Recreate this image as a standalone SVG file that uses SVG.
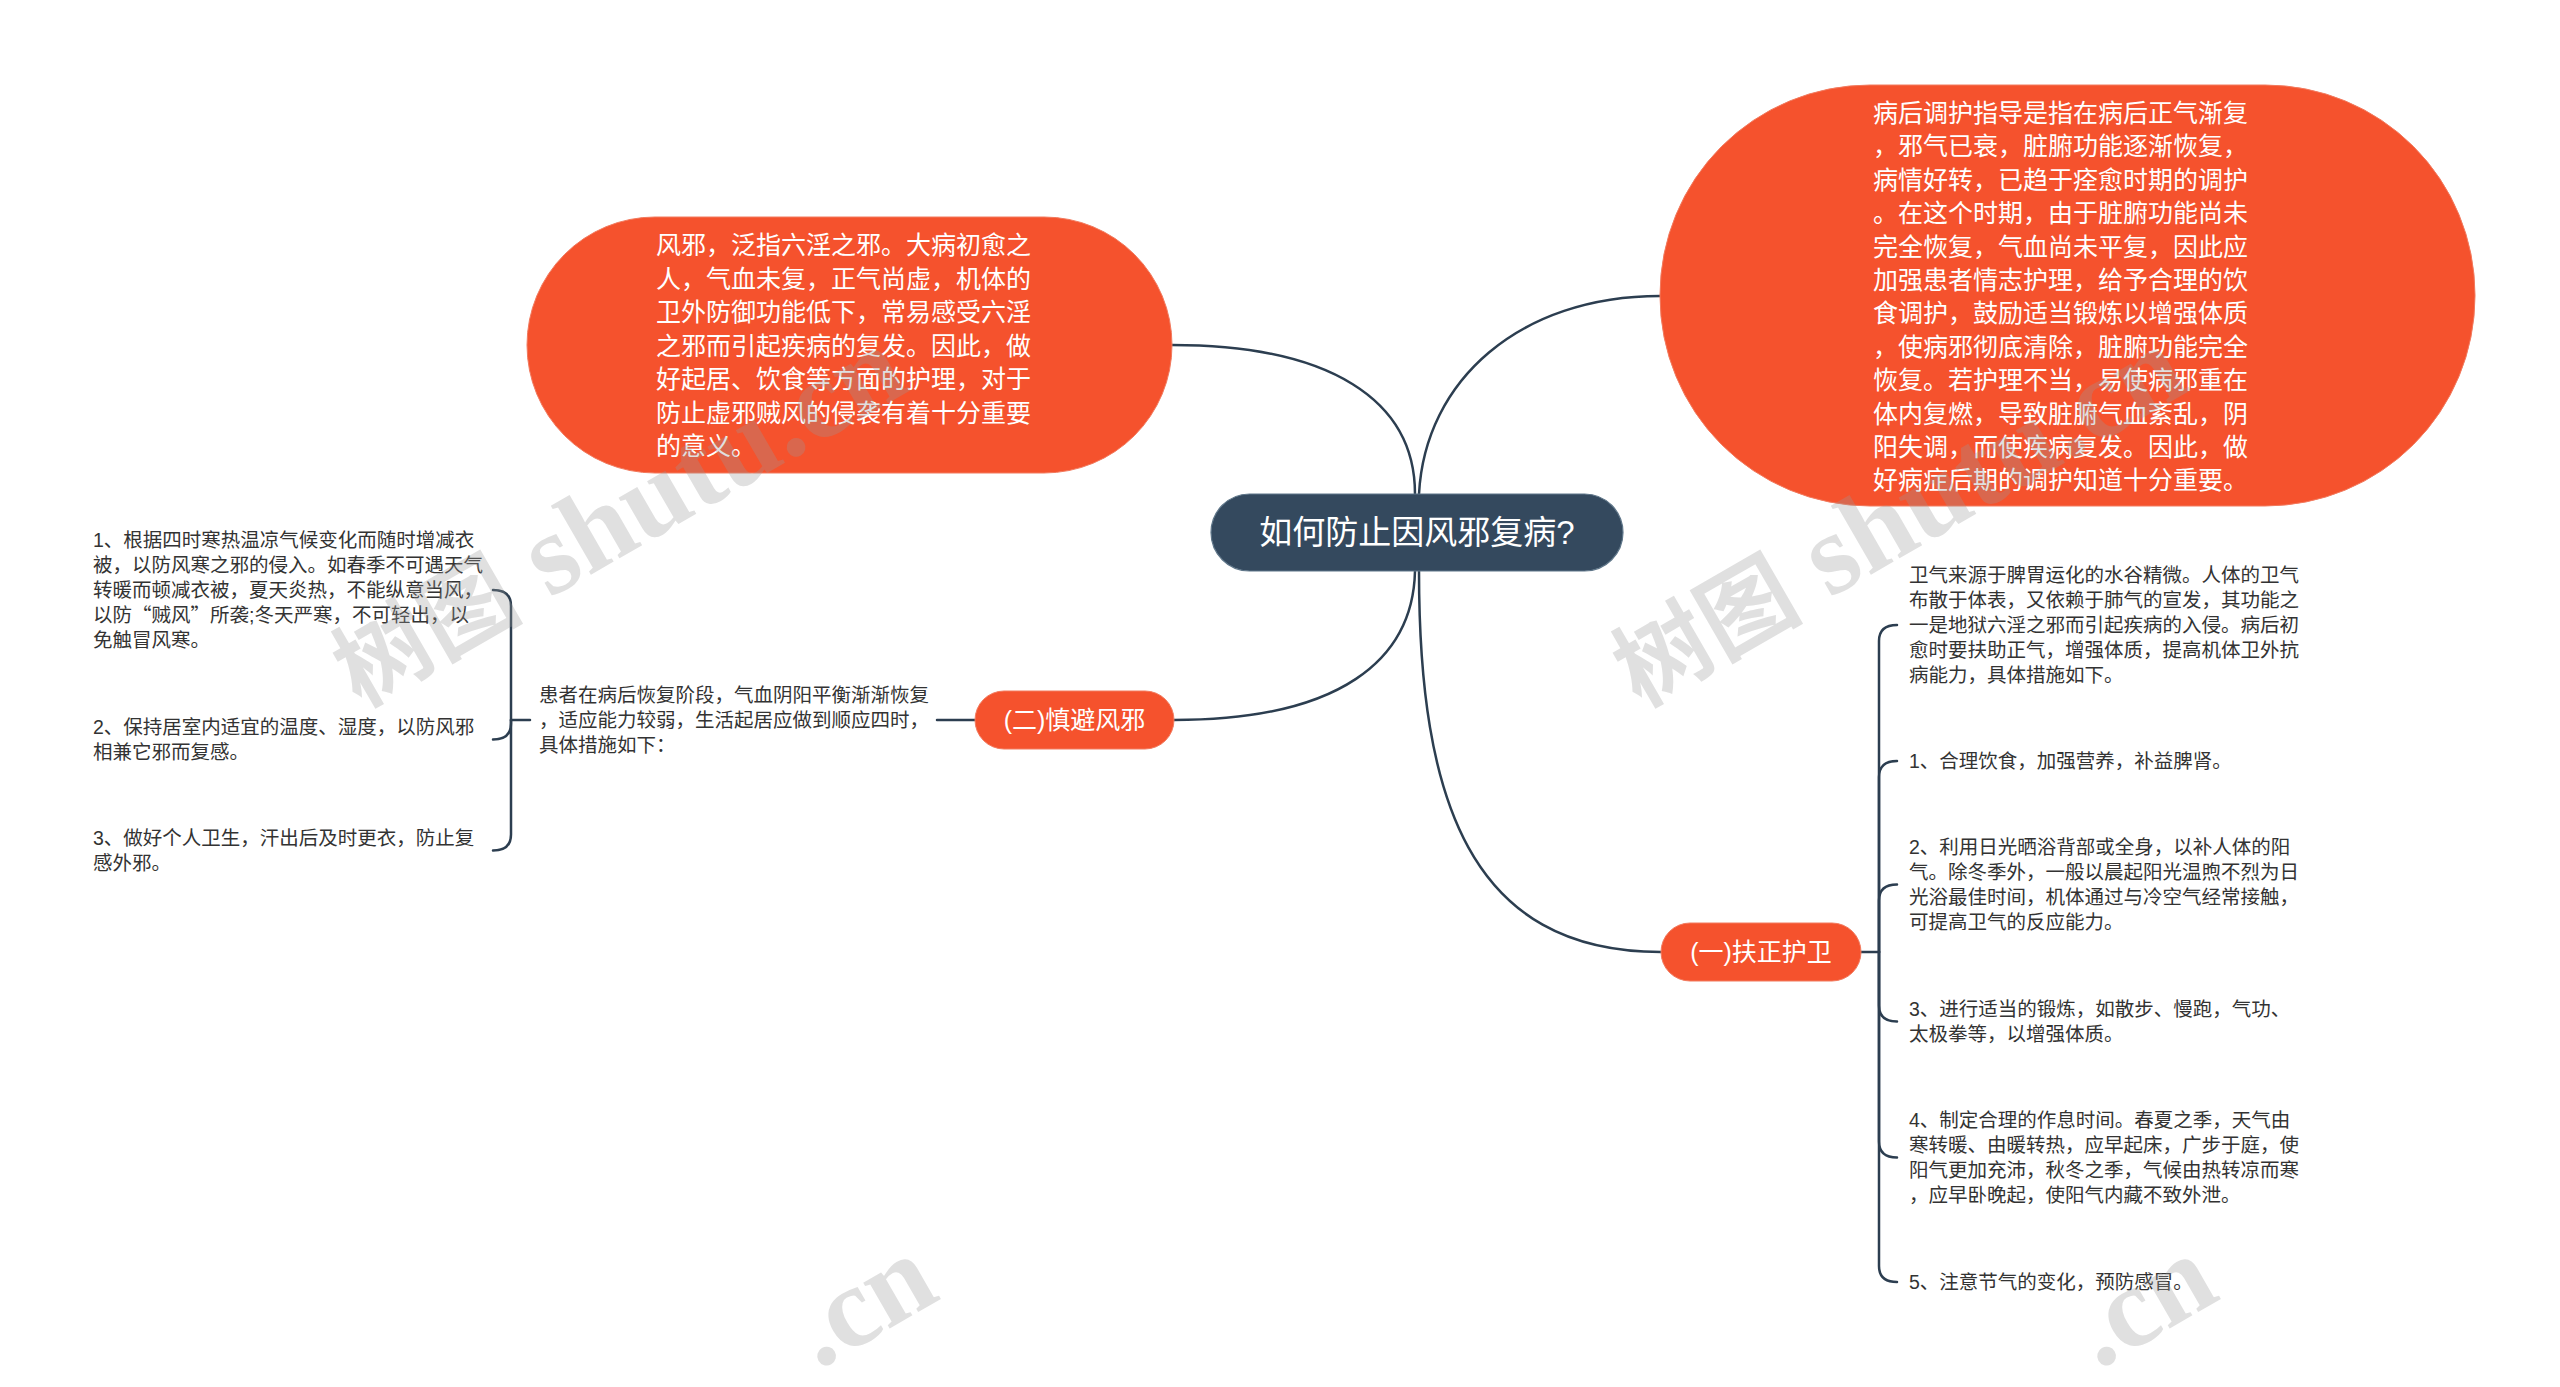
<svg xmlns="http://www.w3.org/2000/svg" width="2560" height="1387" viewBox="0 0 2560 1387">
<defs>
<style>
.bg{fill:#ffffff}
.conn{fill:none;stroke:#2c3e50;stroke-width:2.5;stroke-linecap:round}
.orange{fill:#f5522d;stroke:#f27a5e;stroke-width:1}
.root{fill:#34495e;stroke:#5f7689;stroke-width:1.2}
.t{font-family:"Liberation Sans","Noto Sans CJK SC",sans-serif}
.big{font-size:25px;fill:#ffffff}
.mid{font-size:25px;fill:#ffffff}
.rootT{font-size:33px;fill:#ffffff}
.leaf{font-size:19.5px;fill:#333333}
.cjk{font-family:"Noto Sans CJK SC",sans-serif}
.wm{font-family:"Liberation Serif","Noto Sans CJK SC",serif;font-weight:bold;fill:#9a9a9a;opacity:0.3}
</style>
</defs>
<rect class="bg" x="0" y="0" width="2560" height="1387"/>

<g id="connectors">
<path class="conn" d="M 1415 494 C 1415 400, 1330 345, 1172 345"/>
<path class="conn" d="M 1419 494 C 1425 380, 1520 296, 1660 296"/>
<path class="conn" d="M 1415 571 C 1413 660, 1340 720, 1174 720"/>
<path class="conn" d="M 1419 571 C 1419 800, 1470 952, 1661 952"/>
<path class="conn" d="M 975 720 L 937 720"/>
<path class="conn" d="M 530 720 L 511 720"/>
<path class="conn" d="M 511 720 L 511 606 Q 511 590, 493 590"/>
<path class="conn" d="M 511 720 L 511 723.5 Q 511 739.5, 493 739.5"/>
<path class="conn" d="M 511 720 L 511 834.5 Q 511 850.5, 493 850.5"/>
<path class="conn" d="M 1861 952 L 1879 952"/>
<path class="conn" d="M 1879 952 L 1879 641 Q 1879 625, 1897 625"/>
<path class="conn" d="M 1879 952 L 1879 777 Q 1879 761, 1897 761"/>
<path class="conn" d="M 1879 952 L 1879 900.5 Q 1879 884.5, 1897 884.5"/>
<path class="conn" d="M 1879 952 L 1879 1005.5 Q 1879 1021.5, 1897 1021.5"/>
<path class="conn" d="M 1879 952 L 1879 1141.5 Q 1879 1157.5, 1897 1157.5"/>
<path class="conn" d="M 1879 952 L 1879 1266 Q 1879 1282, 1897 1282"/>
</g>

<g id="node-root">
<rect class="root" x="1211" y="494" width="412" height="77" rx="38.5"/>
<text class="t rootT" x="1417" y="544" text-anchor="middle">如何防止因风邪复病?</text>
</g>

<g id="node-left-desc">
<rect class="orange" x="527" y="217" width="645" height="256" rx="128"/>
<text class="t big" x="656" y="254">
<tspan x="656" dy="0">风邪，泛指六淫之邪。大病初愈之</tspan>
<tspan x="656" dy="33.5">人，气血未复，正气尚虚，机体的</tspan>
<tspan x="656" dy="33.5">卫外防御功能低下，常易感受六淫</tspan>
<tspan x="656" dy="33.5">之邪而引起疾病的复发。因此，做</tspan>
<tspan x="656" dy="33.5">好起居、饮食等方面的护理，对于</tspan>
<tspan x="656" dy="33.5">防止虚邪贼风的侵袭有着十分重要</tspan>
<tspan x="656" dy="33.5">的意义。</tspan>
</text>
</g>

<g id="node-right-desc">
<rect class="orange" x="1660" y="85" width="815" height="421" rx="210"/>
<text class="t big" x="1873" y="122">
<tspan x="1873" dy="0">病后调护指导是指在病后正气渐复</tspan>
<tspan x="1873" dy="33.4">，邪气已衰，脏腑功能逐渐恢复，</tspan>
<tspan x="1873" dy="33.4">病情好转，已趋于痊愈时期的调护</tspan>
<tspan x="1873" dy="33.4">。在这个时期，由于脏腑功能尚未</tspan>
<tspan x="1873" dy="33.4">完全恢复，气血尚未平复，因此应</tspan>
<tspan x="1873" dy="33.4">加强患者情志护理，给予合理的饮</tspan>
<tspan x="1873" dy="33.4">食调护，鼓励适当锻炼以增强体质</tspan>
<tspan x="1873" dy="33.4">，使病邪彻底清除，脏腑功能完全</tspan>
<tspan x="1873" dy="33.4">恢复。若护理不当，易使病邪重在</tspan>
<tspan x="1873" dy="33.4">体内复燃，导致脏腑气血紊乱，阴</tspan>
<tspan x="1873" dy="33.4">阳失调，而使疾病复发。因此，做</tspan>
<tspan x="1873" dy="33.4">好病症后期的调护知道十分重要。</tspan>
</text>
</g>

<g id="node-branch-2">
<rect class="orange" x="975" y="691" width="199" height="58" rx="29"/>
<text class="t mid" x="1074.5" y="729" text-anchor="middle">(二)慎避风邪</text>
</g>

<g id="node-branch-1">
<rect class="orange" x="1661" y="923" width="200" height="58" rx="29"/>
<text class="t mid" x="1761" y="961" text-anchor="middle">(一)扶正护卫</text>
</g>

<g id="node-b2-intro">
<text class="t leaf" x="539" y="702">
<tspan x="539" dy="0">患者在病后恢复阶段，气血阴阳平衡渐渐恢复</tspan>
<tspan x="539" dy="25">，适应能力较弱，生活起居应做到顺应四时，</tspan>
<tspan x="539" dy="25">具体措施如下：</tspan>
</text>
</g>

<g id="node-b2-leaf1">
<text class="t leaf" x="93" y="547">
<tspan x="93" dy="0">1、根据四时寒热温凉气候变化而随时增减衣</tspan>
<tspan x="93" dy="25">被，以防风寒之邪的侵入。如春季不可遇天气</tspan>
<tspan x="93" dy="25">转暖而顿减衣被，夏天炎热，不能纵意当风，</tspan>
<tspan x="93" dy="25">以防<tspan class="cjk">“</tspan>贼风<tspan class="cjk">”</tspan>所袭;冬天严寒，不可轻出，以</tspan>
<tspan x="93" dy="25">免触冒风寒。</tspan>
</text>
</g>

<g id="node-b2-leaf2">
<text class="t leaf" x="93" y="734">
<tspan x="93" dy="0">2、保持居室内适宜的温度、湿度，以防风邪</tspan>
<tspan x="93" dy="25">相兼它邪而复感。</tspan>
</text>
</g>

<g id="node-b2-leaf3">
<text class="t leaf" x="93" y="845">
<tspan x="93" dy="0">3、做好个人卫生，汗出后及时更衣，防止复</tspan>
<tspan x="93" dy="25">感外邪。</tspan>
</text>
</g>

<g id="node-b1-intro">
<text class="t leaf" x="1909" y="582">
<tspan x="1909" dy="0">卫气来源于脾胃运化的水谷精微。人体的卫气</tspan>
<tspan x="1909" dy="25">布散于体表，又依赖于肺气的宣发，其功能之</tspan>
<tspan x="1909" dy="25">一是地狱六淫之邪而引起疾病的入侵。病后初</tspan>
<tspan x="1909" dy="25">愈时要扶助正气，增强体质，提高机体卫外抗</tspan>
<tspan x="1909" dy="25">病能力，具体措施如下。</tspan>
</text>
</g>

<g id="node-b1-leaf1">
<text class="t leaf" x="1909" y="768">1、合理饮食，加强营养，补益脾肾。</text>
</g>

<g id="node-b1-leaf2">
<text class="t leaf" x="1909" y="854">
<tspan x="1909" dy="0">2、利用日光晒浴背部或全身，以补人体的阳</tspan>
<tspan x="1909" dy="25">气。除冬季外，一般以晨起阳光温煦不烈为日</tspan>
<tspan x="1909" dy="25">光浴最佳时间，机体通过与冷空气经常接触，</tspan>
<tspan x="1909" dy="25">可提高卫气的反应能力。</tspan>
</text>
</g>

<g id="node-b1-leaf3">
<text class="t leaf" x="1909" y="1016">
<tspan x="1909" dy="0">3、进行适当的锻炼，如散步、慢跑，气功、</tspan>
<tspan x="1909" dy="25">太极拳等，以增强体质。</tspan>
</text>
</g>

<g id="node-b1-leaf4">
<text class="t leaf" x="1909" y="1127">
<tspan x="1909" dy="0">4、制定合理的作息时间。春夏之季，天气由</tspan>
<tspan x="1909" dy="25">寒转暖、由暖转热，应早起床，广步于庭，使</tspan>
<tspan x="1909" dy="25">阳气更加充沛，秋冬之季，气候由热转凉而寒</tspan>
<tspan x="1909" dy="25">，应早卧晚起，使阳气内藏不致外泄。</tspan>
</text>
</g>

<g id="node-b1-leaf5">
<text class="t leaf" x="1909" y="1289">5、注意节气的变化，预防感冒。</text>
</g>

<g id="watermark">
<text class="wm" transform="translate(360,708) rotate(-30)"><tspan font-size="95">树图</tspan><tspan font-size="115"> shutu.cn</tspan></text>
<text class="wm" transform="translate(1640,708) rotate(-30)"><tspan font-size="95">树图</tspan><tspan font-size="115"> shutu.cn</tspan></text>
<text class="wm" font-size="115" transform="translate(818,1370) rotate(-30)">.cn</text>
<text class="wm" font-size="115" transform="translate(2098,1370) rotate(-30)">.cn</text>
</g>
</svg>
